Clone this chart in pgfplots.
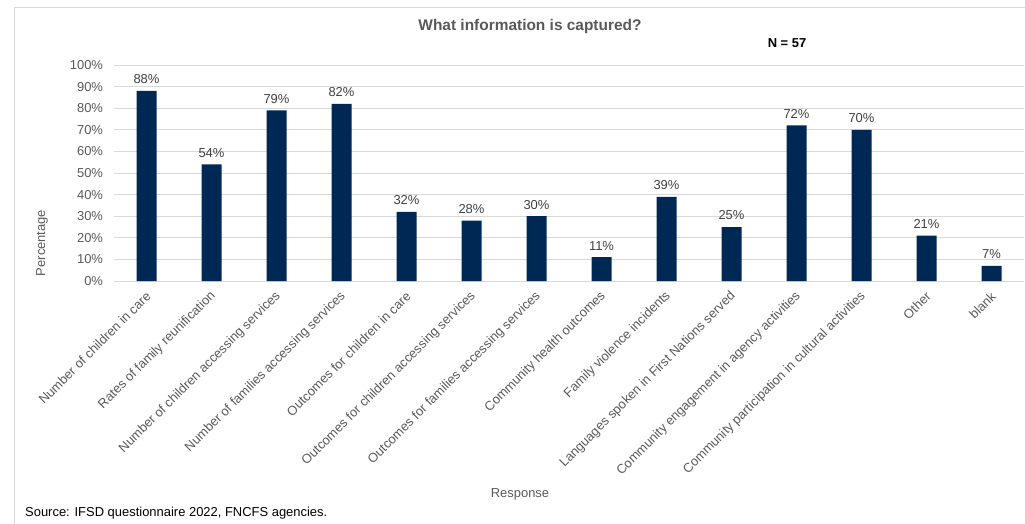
\documentclass[border=0pt]{standalone}
\usepackage{fontspec}
\setmainfont{Liberation Sans}
\usepackage{pgfplots}
\pgfplotsset{compat=1.18}

\definecolor{barnavy}{RGB}{0,40,85}
\definecolor{txtgray}{RGB}{89,89,89}
\definecolor{lblgray}{RGB}{64,64,64}
\definecolor{gridgray}{RGB}{217,217,217}

\begin{document}
\begin{tikzpicture}
\path[use as bounding box] (0,0) rectangle (1025bp,-524bp);
\draw[gridgray, line width=0.8bp] (14bp,-524bp) -- (14bp,-7bp) -- (1025bp,-7bp);

\begin{axis}[
    at={(114bp,-281bp)}, anchor=south west,
    scale only axis,
    width=910bp, height=216bp,
    ybar, bar width=20bp,
    xmin=-0.5, xmax=13.5,
    ymin=0, ymax=100,
    xtick={0,...,13},
    xticklabels={Number of children in care, Rates of family reunification,
        Number of children accessing services, Number of families accessing services,
        Outcomes for children in care, Outcomes for children accessing services,
        Outcomes for families accessing services, Community health outcomes,
        Family violence incidents, Languages spoken in First Nations served,
        Community engagement in agency activities, Community participation in cultural activities,
        Other, blank},
    ytick={0,10,...,100},
    yticklabels={0\%,10\%,20\%,30\%,40\%,50\%,60\%,70\%,80\%,90\%,100\%},
    ymajorgrids,
    grid style={gridgray, line width=0.8bp},
    axis line style={draw=none},
    major tick length=0pt,
    /pgf/number format/assume math mode=true,
    tick label style={font=\fontsize{13}{15}\selectfont, text=txtgray},
    yticklabel style={xshift=-7.5bp},
    xticklabel style={inner sep=0pt, xshift=2bp, yshift=-13bp, rotate=45, anchor=east},
    nodes near coords={\pgfmathprintnumber{\pgfplotspointmeta}\%},
    nodes near coords style={font=\fontsize{13}{15}\selectfont, text=lblgray, yshift=3.5bp},
]
\addplot[fill=barnavy, draw=none] coordinates {
    (0,88) (1,54) (2,79) (3,82) (4,32) (5,28) (6,30)
    (7,11) (8,39) (9,25) (10,72) (11,70) (12,21) (13,7)
};
\end{axis}

\node[font=\fontsize{15.5}{18}\selectfont\bfseries, text=txtgray] at (530bp,-27bp) {What information is captured?};
\node[font=\fontsize{13}{15}\selectfont\bfseries, text=black] at (787bp,-43bp) {N = 57};
\node[font=\fontsize{13}{15}\selectfont, text=txtgray, rotate=90] at (42bp,-243bp) {Percentage};
\node[font=\fontsize{13}{15}\selectfont, text=txtgray] at (520bp,-494bp) {Response};
\node[font=\fontsize{13}{15}\selectfont, text=black, anchor=west, inner sep=0pt] at (25bp,-513bp) {Source: IFSD questionnaire 2022, FNCFS agencies.};
\end{tikzpicture}
\end{document}
